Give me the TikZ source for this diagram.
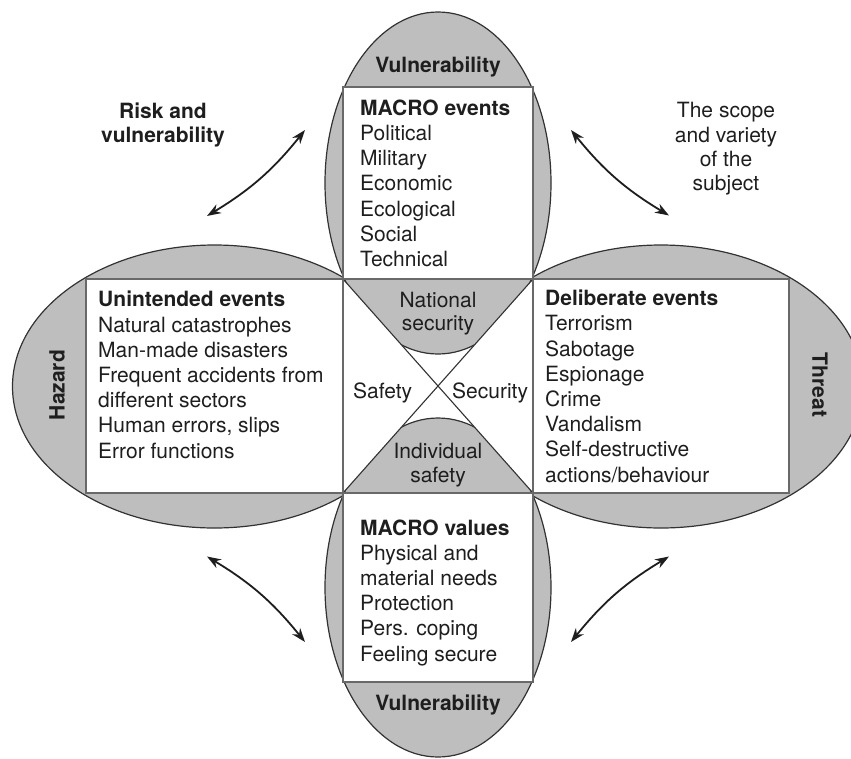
\documentclass[tikz,border=0pt]{standalone}
\usepackage{fontspec}
\setmainfont{TeX Gyre Heros}
\usetikzlibrary{arrows.meta}
\definecolor{lobegray}{RGB}{190,190,190}
\definecolor{rimline}{RGB}{50,50,50}
\definecolor{panelline}{RGB}{105,105,105}
\definecolor{ink}{RGB}{30,30,30}
\begin{document}
\begin{tikzpicture}[x=1pt,y=-1pt,
  lobe/.style={fill=lobegray, draw=rimline, line width=1.2pt},
  panel/.style={fill=white, draw=panelline, line width=1.3pt},
  frame/.style={draw=panelline, line width=1.3pt},
  cross/.style={draw=rimline, line width=1.1pt},
  txt/.style={font=\fontsize{21}{25.2}\selectfont, text=ink, inner sep=0pt},
  listtxt/.style={txt, align=left, anchor=base west},
  head/.style={txt, font=\fontsize{21}{25.2}\selectfont\bfseries},
  link/.style={draw=ink, line width=1.8pt, {Stealth[length=14pt,width=10pt]}-{Stealth[length=14pt,width=10pt]}}
]
\useasboundingbox (0,0) rectangle (851,758);
\clip (0,0) rectangle (851,758);

% four lobes
\path[lobe] (438,183) ellipse [x radius=113pt, y radius=171pt];
\path[lobe] (438,587.5) ellipse [x radius=113pt, y radius=169.5pt];
\path[lobe] (214.5,386.5) ellipse [x radius=202pt, y radius=141.5pt];
\path[lobe] (661,386.5) ellipse [x radius=202pt, y radius=141.5pt];

% white panels and the central square
\path[panel] (343,87) rectangle (533,279);
\path[panel] (343,493) rectangle (533,682);
\path[panel] (86,279) rectangle (343,493);
\path[panel] (533,279) rectangle (789,493);
\path[fill=white] (343,279) rectangle (533,493);

% lobe tips inside the hourglass
\begin{scope}
  \clip (343,279) -- (533,279) -- (438,386) -- cycle;
  \path[lobe] (438,183) ellipse [x radius=113pt, y radius=171pt];
\end{scope}
\begin{scope}
  \clip (343,493) -- (533,493) -- (438,386) -- cycle;
  \path[lobe] (438,587.5) ellipse [x radius=113pt, y radius=169.5pt];
\end{scope}

% hourglass diagonals
\coordinate (ctl) at (343,279);
\coordinate (ctr) at (533,279);
\coordinate (cbl) at (343,493);
\coordinate (cbr) at (533,493);
\draw[cross] (ctl) -- (cbr);
\draw[cross] (ctr) -- (cbl);

% panel outlines on top
\path[frame] (343,87) rectangle (533,279);
\path[frame] (343,493) rectangle (533,682);
\path[frame] (86,279) rectangle (343,493);
\path[frame] (533,279) rectangle (789,493);

% lobe titles
\node[head, anchor=base] (vtop) at (438,72) {Vulnerability};
\node[head, anchor=base] (vbot) at (438,710) {Vulnerability};
\node[head, rotate=90] (hazard) at (57,385) {Hazard};
\node[head, rotate=-90] (threat) at (820,385) {Threat};

% panel lists (anchored at the baseline of their last line)
\node[listtxt] (macroev) at (360,266.5) {\textbf{MACRO events}\\Political\\Military\\Economic\\Ecological\\Social\\Technical};
\node[listtxt] (unint) at (98,458) {\textbf{Unintended events}\\Natural catastrophes\\Man-made disasters\\Frequent accidents from\\different sectors\\Human errors, slips\\Error functions};
\node[listtxt] (delib) at (545,482) {\textbf{Deliberate events}\\Terrorism\\Sabotage\\Espionage\\Crime\\Vandalism\\Self-destructive\\actions/behaviour};
\node[listtxt] (macroval) at (360,661) {\textbf{MACRO values}\\Physical and\\material needs\\Protection\\Pers. coping\\Feeling secure};

% hourglass labels
\node[txt, align=center, anchor=base, font=\fontsize{21}{23.5}\selectfont] (natsec) at (438,330.5) {National\\security};
\node[txt, align=center, anchor=base, font=\fontsize{21}{23.5}\selectfont] (indsaf) at (438,482) {Individual\\safety};
\node[txt, anchor=base west] (safety) at (353,398) {Safety};
\node[txt, anchor=base west] (security) at (452,398) {Security};

% corner captions
\node[head, align=center, anchor=base, font=\fontsize{21}{24}\selectfont\bfseries] (risk) at (163,142) {Risk and\\vulnerability};
\node[txt, align=center, anchor=base, font=\fontsize{21}{24.2}\selectfont] (scope) at (726,190.5) {The scope\\and variety\\of the\\subject};

% double-headed links
\coordinate (tla) at (207,216);
\coordinate (tlb) at (305,130);
\coordinate (tra) at (571,130);
\coordinate (trb) at (669,215.5);
\coordinate (bla) at (207,556.5);
\coordinate (blb) at (305,642);
\coordinate (bra) at (571,642);
\coordinate (brb) at (669,556.5);
\draw[link] (tla) to[bend right=10] (tlb);
\draw[link] (tra) to[bend right=10] (trb);
\draw[link] (bla) to[bend left=10] (blb);
\draw[link] (bra) to[bend left=10] (brb);
\end{tikzpicture}
\end{document}
